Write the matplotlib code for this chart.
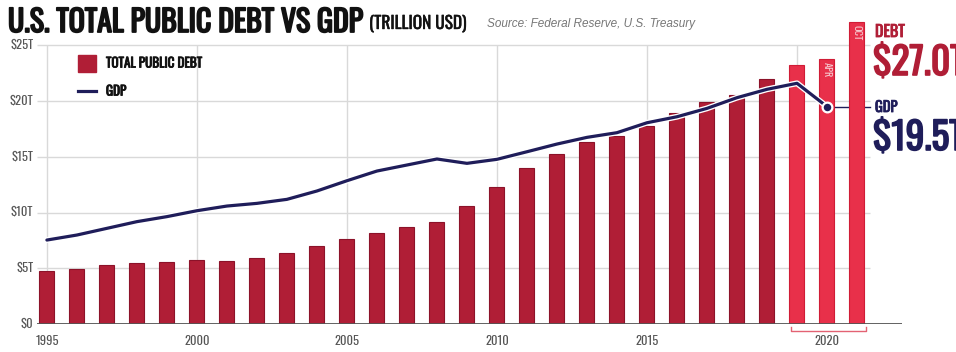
import matplotlib
matplotlib.use("Agg")
import matplotlib.pyplot as plt
import matplotlib.patheffects as pe
from matplotlib.patches import Rectangle
from matplotlib.lines import Line2D

# Values in trillion USD
periods = ['1995', '1996', '1997', '1998', '1999', '2000', '2001', '2002', '2003', '2004',
           '2005', '2006', '2007', '2008', '2009', '2010', '2011', '2012', '2013', '2014',
           '2015', '2016', '2017', '2018', '2019', '2020', '2020 APR', '2020 OCT']
debt = [4.78, 4.96, 5.29, 5.50, 5.59, 5.77, 5.68, 5.89, 6.39, 6.97,
        7.60, 8.19, 8.73, 9.18, 10.61, 12.31, 14.02, 15.22, 16.35, 16.86,
        17.76, 18.95, 19.94, 20.57, 21.94, 23.26, 23.74, 27.07]
gdp = [7.53, 7.98, 8.58, 9.18, 9.63, 10.16, 10.58, 10.82, 11.18, 11.93,
       12.85, 13.72, 14.26, 14.80, 14.41, 14.77, 15.45, 16.14, 16.74, 17.16,
       18.05, 18.59, 19.34, 20.30, 21.05, 21.59, 19.50]
bar_tags = ['', 'APR', 'OCT']
year_ticks = ['1995', '2000', '2005', '2010', '2015']
y_ticks = [0, 5, 10, 15, 20, 25]
y_labels = ['$0', '$5T', '$10T', '$15T', '$20T', '$25T']

DARK_RED = '#B01E36'
LIGHT_RED = '#E8304A'
NAVY = '#1F1D5A'
COND = ['Oswald', 'Bebas Neue', 'Fjalla One', 'Fira Sans Extra Condensed', 'DejaVu Sans']


def heavy(color, w=1.0):
    # Oswald only comes in one weight here, so thicken it with a stroke
    return [pe.withStroke(linewidth=w, foreground=color)]


W, H = 956, 352
fig = plt.figure(figsize=(W / 100, H / 100), dpi=100)
ax = fig.add_axes([37 / W, 28 / H, 865 / W, 306.6 / H])
ax.set_xlim(-0.33, 28.5)
ax.set_ylim(0, 27.5)
ax.axis('off')

n_years = len(year_ticks) * 5
x = list(range(len(debt)))
colors = [DARK_RED if i < n_years else LIGHT_RED for i in x]
edges = ['#8C1229' if i < n_years else '#D01C36' for i in x]

# grid
ax.hlines(y_ticks[1:], -0.33, 27.45, color='#d9d9d9', lw=1.0, zorder=0)
for i in range(0, 26, 5):
    ax.vlines(i, 0, 25, color='#d9d9d9', lw=1.0, zorder=0)
ax.hlines(0, -0.33, 28.5, color='#555555', lw=1.3, zorder=3)

ax.bar(x, debt, width=0.5, color=colors, edgecolor=edges, linewidth=0.8, zorder=2)

# tags inside the 2020 bars
for k, tag in enumerate(bar_tags):
    if tag:
        i = n_years + k
        ax.text(i, debt[i] - 0.25, tag, rotation=270, ha='center', va='top',
                color='#F6C9CF', fontsize=7.5, family=COND, zorder=4)

gx = list(range(len(gdp)))
ax.plot(gx, gdp, color=NAVY, lw=2.3, zorder=3, solid_capstyle='round',
        path_effects=[pe.Stroke(linewidth=4.2, foreground='white'), pe.Normal()])
ax.plot(gx[-1], gdp[-1], 'o', ms=7, color=NAVY, mec='white', mew=1.6, zorder=5)
ax.plot([gx[-1], 27.45], [gdp[-1], gdp[-1]], color=NAVY, lw=1.0, zorder=1)

# axis labels
for v, lab in zip(y_ticks, y_labels):
    ax.text(-0.45, v, lab, ha='right', va='center', color='#555555',
            fontsize=9, family=COND, weight='light', clip_on=False)
for k, lab in enumerate(year_ticks):
    ax.text(k * 5, -1.5, lab, ha='center', va='center', color='#555555',
            fontsize=9, family=COND, weight='light', clip_on=False)
ax.text(n_years + 1, -1.5, '2020', ha='center', va='center', color='#555555',
        fontsize=9, family=COND, weight='light', clip_on=False)
ax.plot([24.8, 24.8, 27.3, 27.3], [-0.3, -0.65, -0.65, -0.3], color='#E36273',
        lw=1.0, clip_on=False)

# legend
fig.patches.append(Rectangle((78 / W, 1 - 72 / H), 18 / W, 17 / H, color=DARK_RED,
                             transform=fig.transFigure, figure=fig))
fig.lines.append(Line2D([78 / W, 96 / W], [1 - 91 / H] * 2, color=NAVY, lw=2.3,
                        transform=fig.transFigure, figure=fig))
fig.text(106 / W, 1 - 63 / H, 'TOTAL PUBLIC DEBT', va='center', fontsize=9.5,
         family=COND, color='#111111', path_effects=heavy('#111111', 0.6))
fig.text(106 / W, 1 - 91 / H, 'GDP', va='center', fontsize=9.5,
         family=COND, color='#111111', path_effects=heavy('#111111', 0.6))

# title
fig.text(8 / W, 1 - 32 / H, 'U.S. TOTAL PUBLIC DEBT VS GDP', va='baseline',
         fontsize=21.5, family=COND, color='#111111', path_effects=heavy('#111111', 1.3))
fig.text(369 / W, 1 - 29 / H, '(TRILLION USD)', va='baseline',
         fontsize=12.5, family=COND, color='#111111', path_effects=heavy('#111111', 0.3))
fig.text(487 / W, 1 - 24 / H, 'Source: Federal Reserve, U.S. Treasury', va='center',
         fontsize=8.5, style='italic', color='#777777', family='Liberation Sans')

# right-hand callouts
fig.text(875 / W, 1 - 37 / H, 'DEBT', va='baseline', fontsize=11.5,
         family=COND, color=DARK_RED, path_effects=heavy(DARK_RED, 0.6))
fig.text(873 / W, 1 - 75 / H, '$27.0T', va='baseline', fontsize=27,
         family=COND, color=DARK_RED, path_effects=heavy(DARK_RED, 1.2))
fig.text(875 / W, 1 - 112 / H, 'GDP', va='baseline', fontsize=10.5,
         family=COND, color=NAVY, path_effects=heavy(NAVY, 0.6))
fig.text(873 / W, 1 - 150 / H, '$19.5T', va='baseline', fontsize=27,
         family=COND, color=NAVY, path_effects=heavy(NAVY, 1.2))

fig.savefig('out.png', dpi=100)
